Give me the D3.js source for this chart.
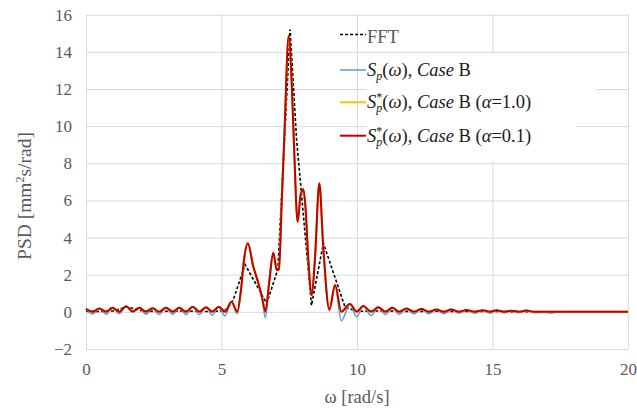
<!DOCTYPE html>
<html><head><meta charset="utf-8">
<script src="https://cdn.jsdelivr.net/npm/d3@7"></script>
<style>body{margin:0;background:#fff}svg{display:block}
svg text{font-family:"Liberation Serif";}</style>
</head><body>
<svg id="c" width="637" height="410"></svg>
<script>
// ---- data ----
const xTicks = [0, 5, 10, 15, 20];
const yTicks = [-2, 0, 2, 4, 6, 8, 10, 12, 14, 16];

const fftOmega = [0, 0.5, 1.0, 1.5, 2.0, 2.5, 3.0, 3.5, 4.0, 4.5, 5.0, 5.2, 5.43, 5.87, 6.67, 7.08, 7.53, 7.77, 8.32, 8.76, 9.56, 10, 11, 12, 13, 14, 15, 16, 17, 18, 19, 20];
const fftPSD   = [0.03, 0.02, 0.05, 0.27, 0.08, 0.02, 0.03, 0.05, 0.03, 0.02, 0.05, 0.15, 0.63, 2.55, 0.45, 2.3, 15.2, 9.3, 0.35, 3.7, 0.25, 0.03, 0.05, 0.02, 0.03, 0.02, 0.02, 0.01, 0, 0, 0, 0];

const omega = [0, 0.25, 0.49, 0.74, 0.98, 1.23, 1.48, 1.72, 1.97, 2.21, 2.46, 2.7, 2.95, 3.2, 3.44, 3.69, 3.94, 4.18, 4.43, 4.66, 4.9, 5.13, 5.37, 5.58,
  5.72, 5.83, 5.97, 6.17, 6.36, 6.5, 6.62, 6.76, 6.91, 7.04, 7.12, 7.22, 7.32, 7.48, 7.6, 7.68, 7.81, 7.92, 8.02, 8.1, 8.2, 8.33, 8.45, 8.61, 8.75, 8.98, 9.19, 9.42, 9.74, 9.99,
  10.23, 10.52, 10.79, 11.05, 11.3, 11.56, 11.83, 12.1, 12.38, 12.65, 12.93, 13.2, 13.48, 13.76, 14.04, 14.34, 14.64, 14.9, 15.15, 15.43, 15.7, 15.97, 16.25, 16.55, 16.85, 17.1, 17.5, 18, 19, 20];
const spCaseB = [0.16, -0.12, 0.18, -0.13, 0.22, -0.1, 0.3, -0.02, 0.22, -0.13, 0.2, -0.14, 0.22, -0.13, 0.22, -0.14, 0.28, -0.15, 0.25, -0.17, 0.27, -0.22, 0.54, -0.1,
  1.2, 2.8, 3.69, 2.45, 1.55, 0.7, -0.32, 1.6, 3.18, 2.25, 2.3, 5.8, 9.5, 14.86, 12.0, 8.8, 4.85, 6.3, 6.6, 5.6, 2.9, 0.9, 2.9, 6.92, 3.6, 0.05, 1.44, -0.49, 0.42, -0.27,
  0.31, -0.2, 0.25, -0.15, 0.22, -0.13, 0.18, -0.12, 0.15, -0.1, 0.13, -0.1, 0.13, -0.08, 0.1, -0.08, 0.09, -0.07, 0.08, -0.06, 0.06, -0.05, 0.07, -0.05, -0.02, -0.06, 0, 0, 0, 0];
const spStarA10 = [0.16, 0.01, 0.18, 0.01, 0.22, 0.01, 0.3, 0.02, 0.22, 0.01, 0.2, 0.01, 0.22, 0.01, 0.22, 0.01, 0.28, 0.01, 0.25, 0.01, 0.27, 0.01, 0.54, 0.01,
  1.2, 2.8, 3.69, 2.45, 1.55, 0.75, 0.01, 1.6, 3.18, 2.25, 2.3, 5.8, 9.5, 14.9, 12.0, 8.8, 4.85, 6.3, 6.6, 5.6, 2.9, 0.9, 2.9, 6.92, 3.6, 0.13, 1.44, 0.01, 0.42, 0.01,
  0.31, 0.01, 0.25, 0.01, 0.22, 0.01, 0.18, 0.01, 0.15, 0.01, 0.13, 0.01, 0.13, 0.01, 0.1, 0.01, 0.09, 0.01, 0.08, 0.01, 0.06, 0.01, 0.07, 0.01, 0.01, 0, 0, 0, 0, 0];
const spStarA01 = [0.16, 0.01, 0.18, 0.01, 0.22, 0.01, 0.3, 0.02, 0.22, 0.01, 0.2, 0.01, 0.22, 0.01, 0.22, 0.01, 0.28, 0.01, 0.25, 0.01, 0.27, 0.01, 0.54, 0.01,
  1.2, 2.8, 3.69, 2.45, 1.55, 0.75, 0.01, 1.6, 3.18, 2.25, 2.3, 5.8, 9.5, 14.86, 12.0, 8.8, 4.85, 6.3, 6.6, 5.6, 2.9, 0.9, 2.9, 6.92, 3.6, 0.13, 1.44, 0.01, 0.42, 0.01,
  0.31, 0.01, 0.25, 0.01, 0.22, 0.01, 0.18, 0.01, 0.15, 0.01, 0.13, 0.01, 0.13, 0.01, 0.1, 0.01, 0.09, 0.01, 0.08, 0.01, 0.06, 0.01, 0.07, 0.01, 0.01, 0, 0, 0, 0, 0];

// ---- chart ----
const svg = d3.select("#c");
const x = d3.scaleLinear().domain([0, 20]).range([86, 628]);
const y = d3.scaleLinear().domain([-2, 16]).range([349, 14.7]);
const grid = "#d9d9d9";

svg.append("g").attr("transform", `translate(${x(0)},0)`)
  .call(d3.axisLeft(y).tickValues(yTicks).tickSize(-(x(20) - x(0))).tickFormat(""))
  .call(g => { g.select(".domain").remove(); g.selectAll("line").attr("stroke", grid).attr("stroke-width", 1); });
svg.append("g").attr("transform", `translate(0,${y(-2)})`)
  .call(d3.axisBottom(x).tickValues(xTicks).tickSize(-(y(-2) - y(16))).tickFormat(""))
  .call(g => { g.select(".domain").remove(); g.selectAll("line").attr("stroke", grid).attr("stroke-width", 1); });

svg.append("g").attr("transform", `translate(${x(0)},0)`)
  .call(d3.axisLeft(y).tickValues(yTicks).tickSize(0).tickPadding(14).tickFormat(d3.format("d")))
  .call(g => { g.attr("font-family", null); g.select(".domain").remove(); g.selectAll("text").attr("font-size", 17).attr("fill", "#595959"); });
svg.append("g").attr("transform", `translate(0,${y(-2)})`)
  .call(d3.axisBottom(x).tickValues(xTicks).tickSize(0).tickPadding(14).tickFormat(d3.format("d")))
  .call(g => { g.attr("font-family", null); g.select(".domain").remove(); g.selectAll("text").attr("font-size", 17).attr("fill", "#595959"); });

// legend background boxes
svg.append("rect").attr("x", 367).attr("y", 54).attr("width", 229).attr("height", 65).attr("fill", "#fff");
svg.append("rect").attr("x", 367).attr("y", 119).attr("width", 209).attr("height", 42).attr("fill", "#fff");

// series
const lineLin = d3.line().x(d => x(d[0])).y(d => y(d[1]));
const lineSm = d3.line().x(d => x(d[0])).y(d => y(d[1])).curve(d3.curveMonotoneX);

svg.append("path").datum(d3.zip(fftOmega, fftPSD)).attr("d", lineLin)
  .attr("fill", "none").attr("stroke", "#000").attr("stroke-width", 1.6).attr("stroke-dasharray", "3,2");
svg.append("path").datum(d3.zip(omega, spCaseB)).attr("d", lineSm)
  .attr("fill", "none").attr("stroke", "#5B9BD5").attr("stroke-width", 1.5);
svg.append("path").datum(d3.zip(omega, spStarA10)).attr("d", lineSm)
  .attr("fill", "none").attr("stroke", "#FFC000").attr("stroke-width", 2);
svg.append("path").datum(d3.zip(omega, spStarA01)).attr("d", lineSm)
  .attr("fill", "none").attr("stroke", "#C00000").attr("stroke-width", 2);

// axis titles
svg.append("text").attr("x", x(10)).attr("y", 403).attr("text-anchor", "middle")
  .attr("font-size", 18.5).attr("fill", "#595959").text("ω [rad/s]");
const yt = svg.append("text").attr("transform", `translate(31,196) rotate(-90)`).attr("text-anchor", "middle")
  .attr("font-size", 19.5).attr("fill", "#595959");
yt.append("tspan").text("PSD [mm");
yt.append("tspan").attr("font-size", 12).attr("dy", -7).text("2");
yt.append("tspan").attr("dy", 7).text("s/rad]");

// legend
const legendRows = [
  { yy: 34.5, color: "#000", dash: "3,2", w: 1.5 },
  { yy: 70, color: "#5B9BD5", dash: null, w: 1.5 },
  { yy: 102.3, color: "#FFC000", dash: null, w: 2 },
  { yy: 135.7, color: "#C00000", dash: null, w: 2 }
];
legendRows.forEach(r => {
  svg.append("line").attr("x1", 340).attr("x2", 366).attr("y1", r.yy).attr("y2", r.yy)
    .attr("stroke", r.color).attr("stroke-width", r.w).attr("stroke-dasharray", r.dash);
});
const LFS = 18.5;
svg.append("text").attr("x", 367).attr("y", 42.5).attr("font-size", LFS).attr("fill", "#595959").text("FFT");
function spLabel(t, star, tail) {
  t.append("tspan").attr("font-style", "italic").text("S");
  if (star) {
    t.append("tspan").attr("font-size", 12).attr("dy", -7).text("*");
    t.append("tspan").attr("font-size", 12).attr("font-style", "italic").attr("dx", -6).attr("dy", 11).text("p");
  } else {
    t.append("tspan").attr("font-size", 12).attr("font-style", "italic").attr("dy", 4).text("p");
  }
  t.append("tspan").attr("dy", -4).text("(");
  t.append("tspan").attr("font-style", "italic").text("ω");
  t.append("tspan").text("), ");
  t.append("tspan").attr("font-style", "italic").text("Case");
  t.append("tspan").text(" B");
  if (tail) {
    t.append("tspan").text(" (");
    t.append("tspan").attr("font-style", "italic").text("α");
    t.append("tspan").text(tail + ")");
  }
}
spLabel(svg.append("text").attr("x", 367).attr("y", 75.5).attr("font-size", LFS).attr("fill", "#1a1a1a"), false, null);
spLabel(svg.append("text").attr("x", 367).attr("y", 108.3).attr("font-size", LFS).attr("fill", "#1a1a1a"), true, "=1.0");
spLabel(svg.append("text").attr("x", 367).attr("y", 141.7).attr("font-size", LFS).attr("fill", "#1a1a1a"), true, "=0.1");
</script>
</body></html>
